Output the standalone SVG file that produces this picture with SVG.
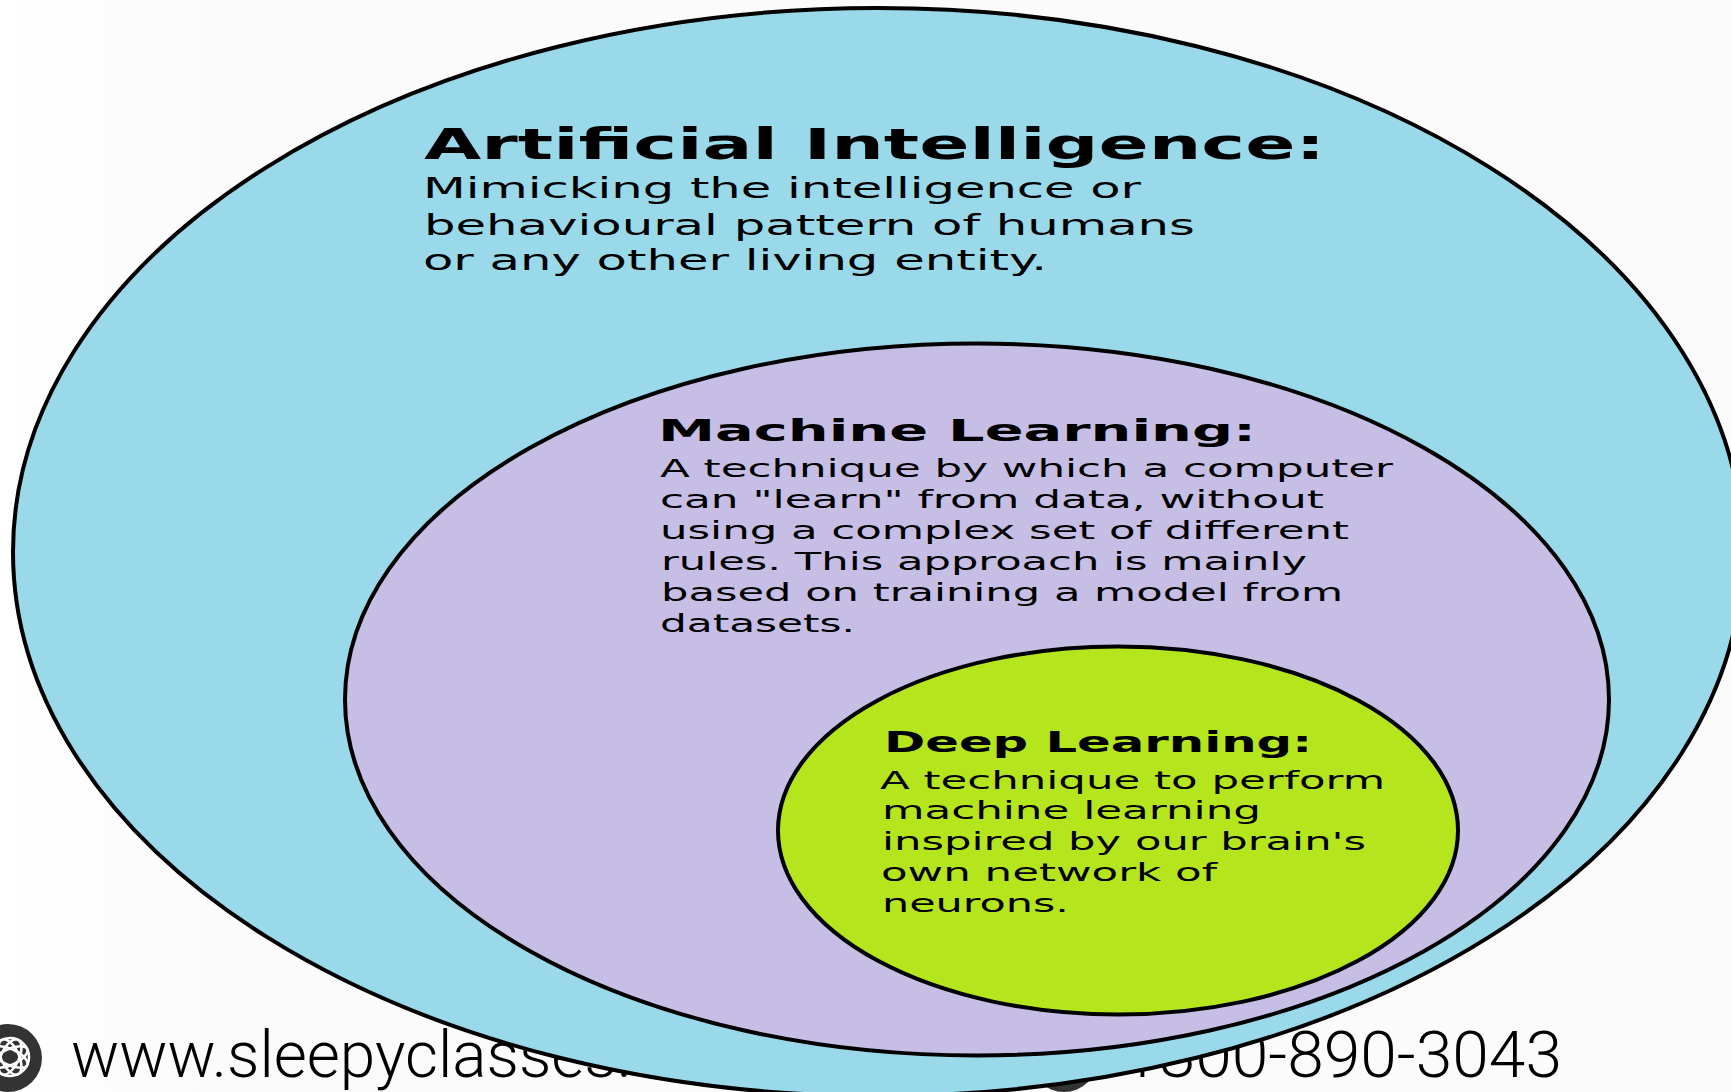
<svg xmlns="http://www.w3.org/2000/svg" width="1731" height="1092" viewBox="0 0 1731 1092">
<defs>
<linearGradient id="bg" x1="0" y1="0" x2="1" y2="0"><stop offset="0" stop-color="#ffffff"/><stop offset="0.12" stop-color="#fbfbfb"/><stop offset="1" stop-color="#fbfbfb"/></linearGradient>
</defs>
<style>
.e{stroke:#000;stroke-width:4}
.h,.b{font-family:"DejaVu Sans",sans-serif;fill:#000}
.h{font-weight:700}
.f{font-family:Roboto,"Liberation Sans",Arial,sans-serif;font-weight:300;font-size:65px;fill:#000}
.g{fill:none;stroke:#fff;stroke-width:2.5}
</style>
<rect width="1731" height="1092" fill="url(#bg)"/>
<g id="footer">
<circle cx="8" cy="1058" r="34" fill="#333"/>
<g class="g"><circle cx="10" cy="1057" r="19"/><ellipse cx="10" cy="1057" rx="9" ry="19" transform="rotate(25 10 1057)"/><ellipse cx="10" cy="1057" rx="9" ry="19" transform="rotate(-25 10 1057)"/><ellipse cx="10" cy="1057" rx="19" ry="8" transform="rotate(25 10 1057)"/><ellipse cx="10" cy="1057" rx="19" ry="8" transform="rotate(-25 10 1057)"/></g>
<circle cx="1064" cy="1058" r="34" fill="#333"/>
<text class="f" x="71" y="1077" textLength="561" lengthAdjust="spacingAndGlyphs">www.sleepyclasses.</text>
<text class="f" x="1122" y="1077" textLength="440" lengthAdjust="spacingAndGlyphs">1800-890-3043</text>
</g>
<g id="artificial-intelligence">
<ellipse class="e" cx="878" cy="552" rx="865" ry="544" fill="#99d9ea"/>
<text class="h" font-size="42.5" x="424" y="159" textLength="901" lengthAdjust="spacingAndGlyphs">Artificial Intelligence:</text>
<g class="b" font-size="27.5">
<text x="423" y="198" textLength="718" lengthAdjust="spacingAndGlyphs">Mimicking the intelligence or</text>
<text x="424" y="234.5" textLength="771" lengthAdjust="spacingAndGlyphs">behavioural pattern of humans</text>
<text x="423" y="270" textLength="624" lengthAdjust="spacingAndGlyphs">or any other living entity.</text>
</g>
</g>
<g id="machine-learning">
<ellipse class="e" cx="977" cy="699.5" rx="632" ry="356" fill="#c7bee6"/>
<text class="h" font-size="31" x="658" y="441" textLength="598" lengthAdjust="spacingAndGlyphs">Machine Learning:</text>
<g class="b" font-size="24.7">
<text x="660" y="477" textLength="733" lengthAdjust="spacingAndGlyphs">A technique by which a computer</text>
<text x="660" y="508" textLength="664" lengthAdjust="spacingAndGlyphs">can "learn" from data, without</text>
<text x="660" y="538.5" textLength="689" lengthAdjust="spacingAndGlyphs">using a complex set of different</text>
<text x="661" y="569.5" textLength="646" lengthAdjust="spacingAndGlyphs">rules. This approach is mainly</text>
<text x="661" y="600.5" textLength="682" lengthAdjust="spacingAndGlyphs">based on training a model from</text>
<text x="660" y="631.5" textLength="195" lengthAdjust="spacingAndGlyphs">datasets.</text>
</g>
</g>
<g id="deep-learning">
<ellipse class="e" cx="1118" cy="830.5" rx="340" ry="184" fill="#b5e61d"/>
<text class="h" font-size="28.4" x="884" y="752" textLength="428" lengthAdjust="spacingAndGlyphs">Deep Learning:</text>
<g class="b" font-size="24.3">
<text x="880" y="788.5" textLength="505" lengthAdjust="spacingAndGlyphs">A technique to perform</text>
<text x="882" y="819" textLength="379" lengthAdjust="spacingAndGlyphs">machine learning</text>
<text x="882" y="850" textLength="484" lengthAdjust="spacingAndGlyphs">inspired by our brain's</text>
<text x="881" y="881" textLength="336" lengthAdjust="spacingAndGlyphs">own network of</text>
<text x="882" y="912" textLength="187" lengthAdjust="spacingAndGlyphs">neurons.</text>
</g>
</g>
</svg>
